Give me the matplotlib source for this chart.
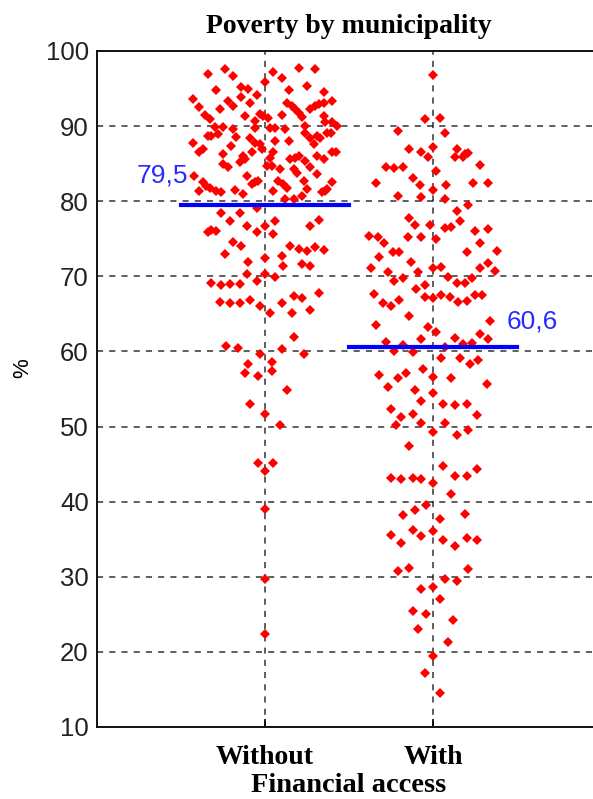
import numpy as np
import matplotlib
matplotlib.use("Agg")
import matplotlib.pyplot as plt

# Poverty (%) by municipality, grouped by financial access
# each point: (horizontal jitter around its group, poverty %)
without_jitter = [
    -0.34, -0.24, -0.19, 0.05, 0.10, 0.20, 0.30, -0.29, -0.14, -0.10, -0.05, 0.00, 0.14, 0.25, 0.35,
    -0.43, -0.39, -0.22, -0.19, -0.14, -0.09, 0.13, 0.16, 0.18, 0.20, 0.22, 0.27, 0.30, 0.32, 0.35, 0.40,
    -0.36, -0.33, -0.27, -0.12, -0.03, -0.01, 0.02, 0.10, 0.35, 0.36, 0.40, 0.43,
    -0.30, -0.25, -0.19, -0.06, -0.06, 0.03, 0.06, 0.12, 0.24, 0.24, 0.27, 0.31, 0.37, 0.39,
    -0.34, -0.32, -0.28, -0.17, -0.09, -0.06, -0.03, 0.06, 0.14, 0.29, 0.33,
    -0.43, -0.37, -0.39, -0.25, -0.20, -0.13, -0.08, -0.02, 0.03, 0.05, 0.15, 0.18, 0.20, 0.31, 0.40, 0.42,
    -0.25, -0.22, -0.15, -0.12, 0.01, 0.04, 0.09, 0.17, 0.19, 0.24, 0.27, 0.31, 0.35,
    -0.42, -0.37, -0.35, -0.11, -0.08, -0.06, -0.04, 0.08, 0.11, 0.13, 0.23, 0.25, 0.37, 0.40,
    -0.39, -0.33, -0.29, -0.26, -0.18, -0.13, 0.05, 0.12, 0.17, 0.22, 0.34, 0.36,
    -0.05, -0.26, -0.15, -0.21, -0.34, -0.32, -0.29, -0.11, -0.05, 0.00, 0.05, 0.06, 0.27, 0.32,
    -0.19, -0.14, -0.24, -0.10, 0.00, 0.10, 0.11, 0.15, 0.20, 0.25, 0.30, 0.35, 0.22, 0.27,
    -0.11, -0.05, 0.00, 0.06, -0.32, -0.26, -0.21, -0.15,
    -0.27, -0.21, -0.15, -0.09, -0.03, 0.03, 0.10, 0.17, 0.22, 0.27, 0.32, 0.16, 0.17,
    -0.23, -0.16, -0.03, 0.10, 0.23, -0.10, 0.04, -0.12, -0.04, 0.04, 0.13,
    -0.09, 0.00, 0.09, -0.04, 0.05, 0.00, 0.00, 0.00, 0.00,
]
without_values = [
    97.0, 97.65, 96.7, 97.2, 96.45, 97.8, 97.56, 94.8, 95.26, 95.0, 94.2, 95.9, 94.8, 95.35, 94.6,
    93.6, 92.6, 93.35, 92.7, 93.9, 93.04, 93.1, 92.7, 92.25, 91.7, 91.27, 92.25, 92.7, 92.9, 93.1, 93.35,
    91.45, 90.9, 92.25, 91.36, 91.6, 91.36, 91.14, 91.5, 91.36, 90.56, 90.5, 90.0,
    89.94, 89.94, 89.6, 90.7, 89.8, 89.8, 89.8, 89.6, 90.0, 89.14, 88.48, 88.7, 89.14, 89.06,
    88.7, 88.7, 88.9, 88.57, 88.48, 87.8, 87.6, 88.0, 88.0, 87.6, 88.48,
    87.8, 87.0, 86.5, 86.35, 87.3, 86.04, 86.5, 86.93, 85.8, 86.5, 85.6, 85.8, 86.04, 86.04, 86.57, 86.57,
    84.94, 84.5, 85.25, 85.6, 84.7, 84.7, 84.27, 84.27, 83.8, 85.4, 84.5, 83.6, 85.6,
    83.3, 82.5, 82.06, 83.4, 82.3, 82.5, 82.7, 82.7, 82.3, 81.8, 82.7, 81.6, 81.6, 82.6,
    81.3, 81.8, 81.4, 81.26, 81.5, 80.95, 81.4, 80.3, 80.3, 80.7, 81.2, 81.4,
    79.04, 78.42, 78.42, 77.31, 75.85, 76.16, 76.07, 76.64, 75.85, 76.64, 75.62, 77.31, 76.64, 77.53,
    74.52, 73.99, 72.97, 71.86, 72.39, 72.74, 71.42, 74.07, 73.63, 73.41, 73.85, 73.5, 71.64, 71.42,
    70.31, 69.42, 70.31, 69.95, 69.07, 68.85, 68.98, 68.98,
    66.63, 66.41, 66.41, 66.85, 66.01, 65.12, 66.41, 67.34, 67.07, 65.52, 67.74, 65.12, 61.89,
    60.78, 60.47, 59.67, 60.34, 59.67, 58.34, 58.65, 57.1, 56.79, 57.33, 54.93,
    52.94, 51.61, 50.15, 45.14, 45.14, 44.03, 39.07, 29.77, 22.37,
]

with_jitter = [
    0.00,
    -0.05, 0.04, -0.21, 0.07, -0.14, -0.07, -0.03, 0.00, 0.14, 0.13, 0.18, 0.19, 0.21, 0.28,
    -0.28, -0.23, -0.18, 0.02, -0.34, -0.12, -0.08, 0.00, 0.08, 0.24, 0.33, -0.21, -0.07, 0.07,
    0.21, 0.14, -0.14, -0.11, -0.02, 0.16, 0.07, 0.11, 0.25, 0.33,
    -0.38, -0.33, -0.29, -0.15, -0.07, 0.02, 0.28, -0.32, -0.24, -0.20, 0.20, 0.38,
    -0.13, 0.05, 0.00, 0.28, 0.33, -0.37, -0.27, -0.09, 0.37, -0.23, -0.18, -0.05, -0.10,
    0.09, 0.14, 0.19, 0.23, -0.35, -0.30, -0.25, -0.20, -0.05, 0.00, 0.05, 0.10, 0.15, 0.20,
    0.25, 0.29, -0.14, -0.34, -0.03, 0.02, 0.34, 0.28, 0.33, -0.07, 0.13, -0.28, -0.18, 0.07,
    0.18, 0.23, -0.23, -0.12, 0.05, 0.16, 0.22, 0.27, -0.06, -0.32, -0.21, -0.16, 0.00, 0.11,
    -0.27, -0.11, 0.00, 0.32, -0.07, 0.06, 0.13, 0.20, -0.25, -0.19, -0.12, 0.26, -0.07, 0.07,
    -0.22, 0.00, 0.14, 0.21, -0.14, 0.06, 0.26, -0.25, -0.19, -0.12, -0.07, 0.00, 0.13, 0.20,
    0.11, -0.04, -0.18, -0.11, 0.04, 0.19,
    -0.25, -0.19, -0.12, -0.07, 0.00, 0.06, 0.13, 0.20, 0.26, -0.21, -0.14, 0.21, 0.07, 0.14,
    -0.07, 0.00, 0.04, -0.12, -0.04, 0.12, -0.09, 0.09, 0.00, -0.05, 0.04,
]
with_values = [
    96.8,
    90.91, 91.14, 89.36, 89.14, 86.93, 86.57, 85.91, 87.24, 87.01, 85.91, 85.91, 86.26, 86.48, 84.84,
    84.58, 84.36, 84.58, 83.96, 82.41, 83.07, 82.19, 81.52, 82.19, 82.41, 82.41, 80.72, 80.5, 80.28,
    79.48, 78.64, 77.75, 76.87, 76.87, 77.31, 76.43, 76.52, 76.07, 76.29,
    75.41, 75.18, 74.43, 75.18, 75.18, 74.96, 74.43, 72.61, 73.19, 73.19, 73.19, 73.41,
    71.86, 71.28, 71.06, 71.06, 71.73, 71.1, 70.62, 70.62, 70.75, 69.42, 69.73, 68.89, 68.32,
    69.96, 69.11, 69.11, 69.73, 67.65, 66.46, 66.01, 66.9, 67.3, 67.08, 67.56, 67.3, 66.54, 66.68,
    67.56, 67.56, 64.68, 63.58, 63.22, 62.56, 64.11, 62.33, 61.67, 61.67, 61.8, 61.32, 60.87, 60.65,
    61.01, 61.1, 60.12, 59.9, 59.1, 59.1, 58.35, 58.92, 57.6, 56.93, 56.44, 57.11, 56.58, 56.44,
    55.24, 54.93, 54.49, 55.6, 53.38, 53.03, 52.81, 53.03, 52.36, 51.26, 51.7, 51.57, 50.46, 50.46,
    50.24, 49.26, 48.82, 49.48, 47.36, 44.74, 44.3, 43.19, 42.97, 43.19, 42.97, 42.53, 43.41, 43.41,
    41.07, 39.52, 38.28, 38.94, 37.74, 38.41,
    35.62, 34.51, 36.28, 35.39, 36.06, 34.95, 34.11, 35.17, 34.95, 30.79, 31.23, 31.01, 29.68, 29.46,
    28.35, 28.66, 26.98, 25.47, 25.03, 24.23, 22.99, 21.35, 19.44, 17.23, 14.5,
]

groups = ["Without", "With"]
group_lines = [79.5, 60.6]
line_labels = ["79,5", "60,6"]

serif = ["Liberation Serif", "DejaVu Serif"]
sans = ["Liberation Sans", "DejaVu Sans"]

fig = plt.figure(figsize=(5.93, 7.99), dpi=100)
ax = fig.add_axes([97 / 593, 72 / 799, 504 / 593, 676 / 799])

pos = np.arange(1, len(groups) + 1)
for p, jit, vals in zip(pos, [without_jitter, with_jitter], [without_values, with_values]):
    ax.plot(p + np.array(jit), vals, linestyle="none", marker="D",
            markersize=4.8, color="#ff0000", markeredgewidth=0, zorder=3)

for p, m, lab, side in zip(pos, group_lines, line_labels, ["left", "right"]):
    ax.plot([p - 0.5, p + 0.5], [m, m], color="#0000ff", linewidth=3, zorder=4)
    if side == "left":
        ax.text(p - 0.46, m + 3.9, lab, ha="right", va="center",
                color="#2b2bff", fontsize=19, family=sans)
    else:
        ax.text(p + 0.44, m + 3.4, lab, ha="left", va="center",
                color="#2b2bff", fontsize=19, family=sans)

ax.set_xlim(0, 3)
ax.set_ylim(10, 100)
ax.set_yticks(np.arange(10, 101, 10))
ax.set_xticks(pos)
ax.set_xticklabels(groups, fontsize=20, fontweight="bold", family=serif)
ax.tick_params(axis="y", labelsize=18.5, colors="#222222", direction="in", length=0, pad=6)
ax.tick_params(axis="x", direction="in", length=6, width=1.2, pad=13)
for lab in ax.get_yticklabels():
    lab.set_family(sans)

ax.grid(True, color="black", linestyle=(0, (4, 4)), linewidth=1.1, alpha=0.8)
ax.set_axisbelow(True)
for s in ax.spines.values():
    s.set_linewidth(1.4)
    s.set_color("#111111")

ax.set_xlabel("Financial access", fontsize=20.5, fontweight="bold", family=serif, labelpad=2)
ax.set_ylabel("%", fontsize=16, family=sans)
ax.yaxis.set_label_coords(-0.127, 0.531)
ax.set_title("Poverty by municipality", fontsize=20, fontweight="bold", family=serif, pad=13)

fig.savefig("out.png", dpi=100)
